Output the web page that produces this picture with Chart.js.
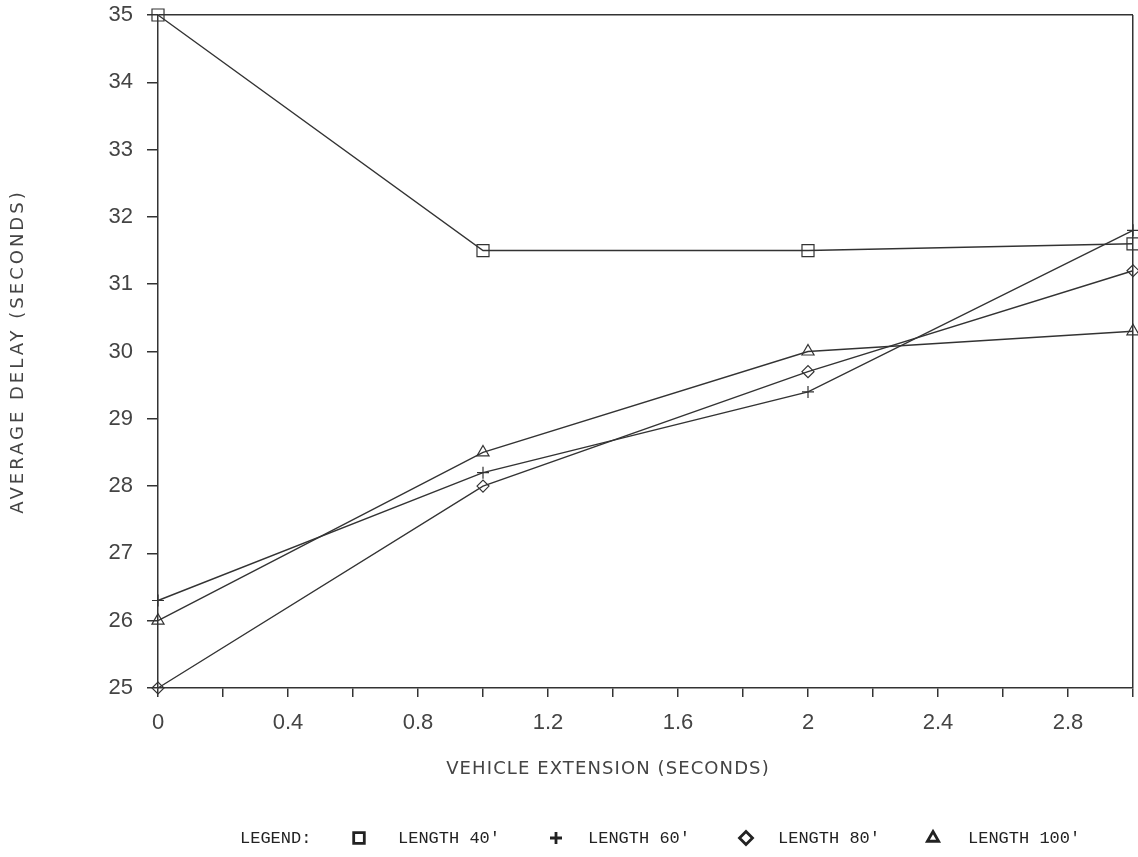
<!DOCTYPE html>
<html>
<head>
<meta charset="utf-8">
<script src="https://cdn.jsdelivr.net/npm/chart.js"></script>
<style>
  html, body { margin: 0; padding: 0; background: #fff; }
  #wrap { width: 1138px; height: 857px; }
</style>
</head>
<body>
<div id="wrap"><canvas id="chart" width="1138" height="857"></canvas></div>
<script>
/* global Chart */
const extension = [0, 1, 2, 3];
const length40 = [35, 31.5, 31.5, 31.6];
const length60 = [26.3, 28.2, 29.4, 31.8];
const length80 = [25, 28.0, 29.7, 31.2];
const length100 = [26, 28.5, 30.0, 30.3];
const seriesNames = ["LENGTH 40'", "LENGTH 60'", "LENGTH 80'", "LENGTH 100'"];
const seriesMarkers = ["rect", "cross", "rectRot", "triangle"];
const xTickLabels = ["0", "0.4", "0.8", "1.2", "1.6", "2", "2.4", "2.8"];

const INK = "#333";
const sansFont = "'Liberation Sans', Arial, sans-serif";
const titleFont = "'DejaVu Sans', 'Liberation Sans', sans-serif";

// marker sizes roughly as plotted (square a bit bigger, diamond smaller)
const markerRadius = { rect: 8.5, cross: 6, rectRot: 6, triangle: 7 };

function toPoints(ys) {
  return ys.map((y, i) => ({ x: extension[i], y: y }));
}

function makeSet(i, ys) {
  return {
    label: seriesNames[i],
    data: toPoints(ys),
    borderColor: INK,
    borderWidth: 1.4,
    backgroundColor: "#fff",
    pointStyle: seriesMarkers[i],
    pointRadius: markerRadius[seriesMarkers[i]],
    pointBorderColor: INK,
    pointBorderWidth: 1.2,
    pointBackgroundColor: "rgba(255,255,255,0)",
    tension: 0,
    clip: false,
  };
}

// wider letter spacing for the axis titles, like the plotter lettering
const spacedTitles = {
  id: "spacedTitles",
  beforeDraw(chart, args, opts) {
    Object.keys(opts.spacing || {}).forEach((id) => {
      const s = chart.scales[id];
      if (!s || s._spacedTitle) return;
      const orig = s.drawTitle;
      s.drawTitle = function () {
        this.ctx.save();
        this.ctx.letterSpacing = opts.spacing[id] + "px";
        orig.call(this);
        this.ctx.restore();
      };
      s._spacedTitle = true;
    });
  },
};

// typewriter style legend under the plot
const bottomLegend = {
  id: "bottomLegend",
  afterDraw(chart, args, opts) {
    const ctx = chart.ctx;
    ctx.save();
    ctx.font = "17px 'Liberation Mono', 'DejaVu Sans Mono', monospace";
    ctx.fillStyle = "#222";
    ctx.textBaseline = "middle";
    ctx.textAlign = "left";
    ctx.fillText("LEGEND:", opts.startX, opts.y);
    chart.data.datasets.forEach((ds, i) => {
      const cx = opts.iconX[i];
      ctx.strokeStyle = "#222";
      ctx.fillStyle = "#fff";
      ctx.lineWidth = 2.8;
      Chart.helpers.drawPoint(ctx, {
        pointStyle: ds.pointStyle,
        radius: opts.iconRadius[ds.pointStyle],
        rotation: 0,
        borderWidth: 2.8,
      }, cx, opts.y);
      ctx.fillStyle = "#222";
      ctx.fillText(ds.label, opts.textX[i], opts.y);
    });
    ctx.restore();
  },
};

// keep the plot box where the layout padding puts it
function noEdgePadding(scale) {
  scale.paddingTop = 0;
  scale.paddingBottom = 0;
  scale.paddingLeft = 0;
  scale.paddingRight = 0;
}

const config = {
  type: "line",
  data: {
    datasets: [
      makeSet(0, length40),
      makeSet(1, length60),
      makeSet(2, length80),
      makeSet(3, length100),
    ],
  },
  plugins: [spacedTitles, bottomLegend],
  options: {
    responsive: false,
    animation: false,
    layout: {
      autoPadding: false,
      padding: { top: 15, right: 5, bottom: 69, left: 0 },
    },
    scales: {
      x: {
        type: "linear",
        min: 0,
        max: 3,
        afterFit: (scale) => {
          scale.height = 100;
          noEdgePadding(scale);
        },
        border: { display: true, color: INK, width: 1.5 },
        grid: {
          drawOnChartArea: true,
          color: (c) => (c.tick && c.tick.value === 3 ? INK : "rgba(0,0,0,0)"),
          lineWidth: 1.5,
          tickColor: INK,
          tickLength: 9,
          tickWidth: 1.5,
        },
        ticks: {
          stepSize: 0.2,
          autoSkip: false,
          maxRotation: 0,
          padding: 13,
          color: "#444",
          font: { family: sansFont, size: 22 },
          callback: function (value, index) {
            return index % 2 === 0 && index / 2 < xTickLabels.length
              ? xTickLabels[index / 2]
              : "";
          },
        },
        title: {
          display: true,
          // trailing blanks nudge the centred title left, as on the plot
          text: "VEHICLE EXTENSION (SECONDS)" + "\u00a0".repeat(11),
          color: "#444",
          font: { family: titleFont, size: 18 },
          padding: { top: 0, bottom: 8 },
        },
      },
      y: {
        min: 25,
        max: 35,
        afterFit: (scale) => {
          scale.width = 158;
          noEdgePadding(scale);
        },
        border: { display: true, color: INK, width: 1.5 },
        grid: {
          drawOnChartArea: true,
          color: (c) => (c.tick && c.tick.value === 35 ? INK : "rgba(0,0,0,0)"),
          lineWidth: 1.5,
          tickColor: INK,
          tickLength: 11,
          tickWidth: 1.5,
        },
        ticks: {
          stepSize: 1,
          padding: 14,
          color: "#444",
          font: { family: sansFont, size: 22 },
        },
        title: {
          display: true,
          text: "AVERAGE DELAY (SECONDS)",
          color: "#444",
          font: { family: titleFont, size: 18 },
          padding: { top: 8, bottom: 0 },
        },
      },
    },
    plugins: {
      legend: { display: false },
      tooltip: { enabled: false },
      spacedTitles: { spacing: { x: 1.1, y: 3.0 } },
      bottomLegend: {
        y: 838,
        startX: 240,
        iconX: [359, 556, 746, 933],
        textX: [398, 588, 778, 968],
        iconRadius: { rect: 7.5, cross: 6, rectRot: 6.5, triangle: 6.5 },
      },
    },
  },
};

window.delayChart = new Chart(document.getElementById("chart"), config);
</script>
</body>
</html>
